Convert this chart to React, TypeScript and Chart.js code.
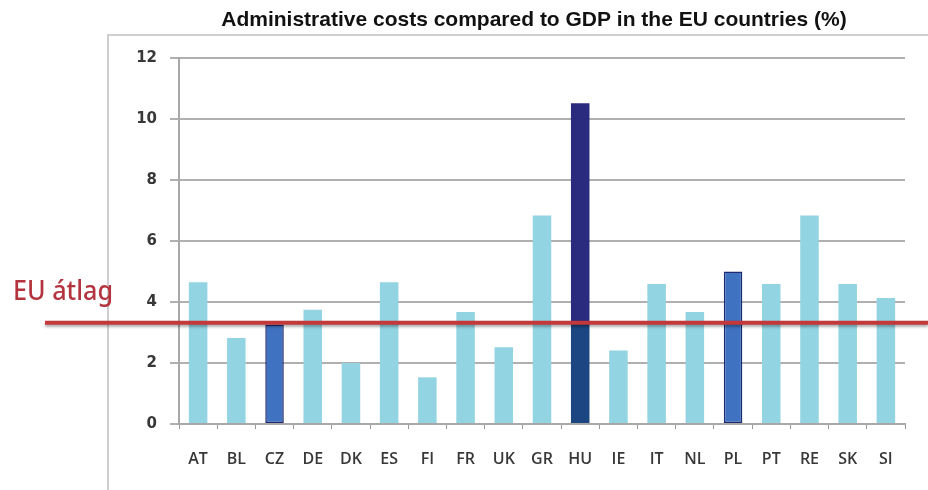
import React, { useEffect, useRef } from "react";
import { Chart, registerables } from "chart.js";

Chart.register(...registerables);

const title = "Administrative costs compared to GDP in the EU countries (%)";
const categories = ["AT", "BL", "CZ", "DE", "DK", "ES", "FI", "FR", "UK", "GR", "HU", "IE", "IT", "NL", "PL", "PT", "RE", "SK", "SI"];
const values = [4.65, 2.82, 3.26, 3.75, 2.0, 4.65, 1.53, 3.67, 2.52, 6.84, 10.52, 2.41, 4.59, 3.67, 5.0, 4.59, 6.84, 4.59, 4.13];
const euAverage = 3.32;
const euLabel = "EU átlag";
const yMin = 0;
const yMax = 12;
const yStep = 2;

const LIGHT = "#93d4e2";
const CZ_PL = "#3f72c1";
const BORDER_DARK = "#1e2870";
const HU_TOP = "#2a2b7e";
const HU_BOTTOM = "#1b4681";

const overlayPlugin = {
  id: "overlay",
  beforeDraw(chart: any) {
    const ctx = chart.ctx;
    ctx.save();
    ctx.fillStyle = "#ffffff";
    ctx.fillRect(0, 0, chart.width, chart.height);
    // frame
    ctx.strokeStyle = "#cfcfcf";
    ctx.lineWidth = 2;
    ctx.beginPath();
    ctx.moveTo(108, chart.height);
    ctx.lineTo(108, 35);
    ctx.lineTo(chart.width, 35);
    ctx.stroke();
    // title
    ctx.fillStyle = "#111111";
    ctx.font = "bold 21px 'Liberation Sans', Arial, sans-serif";
    ctx.textAlign = "center";
    ctx.textBaseline = "alphabetic";
    ctx.fillText(title, 534, 26);
    ctx.restore();
  },
  afterDraw(chart: any) {
    const ctx = chart.ctx;
    const y = chart.scales.y.getPixelForValue(euAverage);
    ctx.save();
    ctx.shadowColor = "rgba(0,0,0,0.35)";
    ctx.shadowBlur = 3;
    ctx.shadowOffsetY = 2;
    ctx.strokeStyle = "#c3393b";
    ctx.lineWidth = 4;
    ctx.beginPath();
    ctx.moveTo(45, y);
    ctx.lineTo(chart.width, y);
    ctx.stroke();
    ctx.restore();

    ctx.save();
    ctx.font = "500 27px 'Noto Sans', sans-serif";
    ctx.fillStyle = "#b3343e";
    ctx.textAlign = "left";
    ctx.textBaseline = "alphabetic";
    const w = ctx.measureText(euLabel).width;
    const sx = 100 / w;
    ctx.translate(13, 300);
    ctx.scale(sx, 1);
    ctx.fillText(euLabel, 0, 0);
    ctx.restore();
  },
};

export default function App() {
  const ref = useRef<HTMLCanvasElement | null>(null);

  useEffect(() => {
    document.body.style.margin = "0";
    const canvas = ref.current;
    if (!canvas) return;

    const bg = (c: any) => {
      const cat = categories[c.dataIndex];
      if (cat === "HU") {
        const chart = c.chart;
        const area = chart.chartArea;
        const ys = chart.scales && chart.scales.y;
        if (!area || !ys) return HU_TOP;
        const yp = ys.getPixelForValue(euAverage);
        const g = chart.ctx.createLinearGradient(0, area.top, 0, area.bottom);
        const stop = Math.min(1, Math.max(0, (yp - area.top) / (area.bottom - area.top)));
        g.addColorStop(0, HU_TOP);
        g.addColorStop(stop, HU_TOP);
        g.addColorStop(stop, HU_BOTTOM);
        g.addColorStop(1, HU_BOTTOM);
        return g;
      }
      if (cat === "CZ" || cat === "PL") return CZ_PL;
      return LIGHT;
    };

    const chart = new Chart(canvas, {
      type: "bar",
      data: {
        labels: categories,
        datasets: [
          {
            data: values,
            backgroundColor: bg as any,
            borderColor: BORDER_DARK,
            borderWidth: ((c: any) => (categories[c.dataIndex] === "CZ" || categories[c.dataIndex] === "PL" ? 1.5 : 0)) as any,
            borderSkipped: false,
            barPercentage: 0.485,
            categoryPercentage: 1,
          },
        ],
      },
      options: {
        responsive: false,
        animation: false,
        layout: { padding: { top: 58, left: 108, right: 23, bottom: 0 } },
        plugins: {
          legend: { display: false },
          title: { display: false },
          tooltip: { enabled: false },
        },
        scales: {
          x: {
            offset: true,
            grid: {
              display: true,
              drawOnChartArea: false,
              drawTicks: true,
              tickLength: 5,
              color: "#9a9a9a",
              lineWidth: 1,
            },
            border: { display: true, color: "#a8a8a8", width: 2 },
            ticks: {
              color: "#383838",
              padding: 21,
              font: { family: "'Open Sans', sans-serif", size: 16, weight: "600" as any },
            },
            afterFit: (s: any) => {
              s.height = 66;
            },
          },
          y: {
            min: yMin,
            max: yMax,
            ticks: {
              stepSize: yStep,
              color: "#383838",
              padding: 13,
              font: { family: "'DejaVu Sans', sans-serif", size: 15, weight: "bold" as any },
            },
            grid: {
              color: "#b0b0b0",
              lineWidth: 2,
              drawTicks: true,
              tickLength: 9,
            },
            border: { display: true, color: "#a8a8a8", width: 2 },
            afterFit: (s: any) => {
              s.width = 71;
            },
          },
        },
      },
      plugins: [overlayPlugin],
    });

    return () => chart.destroy();
  }, []);

  return (
    <div style={{ width: 928, height: 490 }}>
      <canvas ref={ref} width={928} height={490} style={{ display: "block" }} />
    </div>
  );
}
